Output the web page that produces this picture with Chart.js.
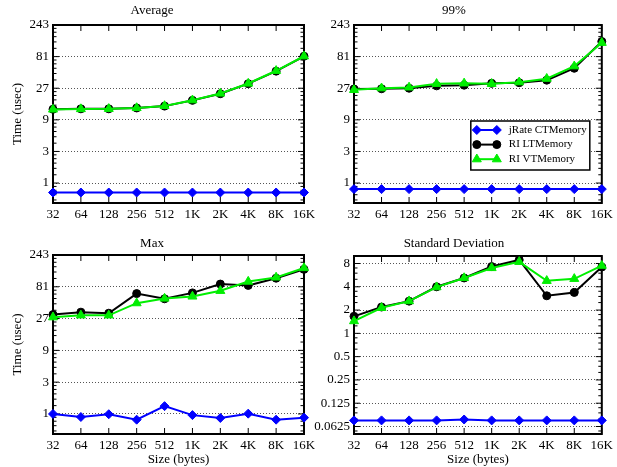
<!DOCTYPE html>
<html>
<head>
<meta charset="utf-8">
<script src="https://cdn.jsdelivr.net/npm/chart.js@4.4.0/dist/chart.umd.min.js"></script>
<style>
  html, body { margin: 0; padding: 0; background: #fff; }
  body { width: 617px; height: 467px; position: relative; overflow: hidden; }
  canvas { position: absolute; }
</style>
</head>
<body>
<canvas id="c-avg" style="left:0;top:0" width="320" height="232"></canvas>
<canvas id="c-p99" style="left:305px;top:0" width="312" height="232"></canvas>
<canvas id="c-max" style="left:0;top:230px" width="320" height="237"></canvas>
<canvas id="c-sd" style="left:305px;top:230px" width="312" height="237"></canvas>
<script>
// x categories (message size)
const sizes = ['32', '64', '128', '256', '512', '1K', '2K', '4K', '8K', '16K'];
const seriesNames = ['jRate CTMemory', 'RI LTMemory', 'RI VTMemory'];

// y ticks
const ticksBase3 = [1, 3, 9, 27, 81, 243];
const ticksBase2 = [0.0625, 0.125, 0.25, 0.5, 1, 2, 4, 8];

// Average
const avgJrate = [0.72, 0.72, 0.72, 0.72, 0.72, 0.72, 0.72, 0.72, 0.72, 0.72];
const avgLT = [13.0, 13.2, 13.2, 13.6, 14.5, 17.7, 22.3, 31.6, 48.9, 82];
const avgVT = [12.9, 13.1, 13.2, 13.6, 14.6, 17.8, 22.5, 31.8, 49.5, 82];

// 99%
const p99Jrate = [0.81, 0.81, 0.81, 0.81, 0.81, 0.81, 0.81, 0.81, 0.81, 0.81];
const p99LT = [26.3, 26.5, 27, 29.3, 30, 32, 32.7, 35.7, 54, 137];
const p99VT = [25.5, 27, 27.8, 31.5, 32, 31.5, 33.3, 37.6, 58, 131];

// Max
const maxJrate = [1.0, 0.90, 0.99, 0.82, 1.31, 0.96, 0.87, 1.01, 0.82, 0.88];
const maxLT = [31, 33.7, 32.5, 64, 53.5, 65.6, 89, 85, 109, 148];
const maxVT = [28.3, 30.2, 30.2, 46, 54, 58, 70.5, 97, 112, 155];

// Standard deviation
const sdJrate = [0.075, 0.075, 0.075, 0.075, 0.077, 0.075, 0.075, 0.075, 0.075, 0.075];
const sdLT = [1.66, 2.19, 2.61, 4.0, 5.2, 7.3, 8.9, 3.06, 3.38, 7.2];
const sdVT = [1.44, 2.14, 2.61, 3.96, 5.2, 7.0, 8.4, 4.78, 5.07, 7.5];

const FONT = 'Liberation Serif, Times New Roman, serif';
Chart.defaults.font.family = FONT;
Chart.defaults.font.size = 13;
Chart.defaults.color = '#000';

const styles = [
  { color: '#0000ff', pointStyle: 'rectRot', radius: 4.5, order: 1 },
  { color: '#000000', pointStyle: 'circle', radius: 4, order: 2 },
  { color: '#00ee00', pointStyle: 'triangle', radius: 5.2, order: 0 }
];

function makeDatasets(lists) {
  return lists.map((data, i) => ({
    label: seriesNames[i],
    data: data,
    borderColor: styles[i].color,
    backgroundColor: styles[i].color,
    pointBackgroundColor: styles[i].color,
    pointBorderColor: styles[i].color,
    pointStyle: styles[i].pointStyle,
    pointRadius: styles[i].radius,
    pointBorderWidth: 1,
    borderWidth: 2,
    order: styles[i].order
  }));
}

function minorTicks(majors, base, n, min, max) {
  const out = [];
  const all = [majors[0] / base].concat(majors);
  all.forEach(m => {
    for (let k = 1; k <= n; k++) {
      const v = m * (1 + k * (base - 1) / (n + 1));
      if (v > min && v < max) out.push(v);
    }
  });
  return out;
}

// gnuplot style frame with inward ticks on all four sides
const framePlugin = {
  id: 'frame',
  beforeDatasetsDraw(chart, args, opts) {
    const { ctx, chartArea: a } = chart;
    const x = chart.scales.x, y = chart.scales.y;
    const seg = (x1, y1, x2, y2) => { ctx.beginPath(); ctx.moveTo(x1, y1); ctx.lineTo(x2, y2); ctx.stroke(); };
    ctx.save();
    ctx.strokeStyle = '#000';
    ctx.lineWidth = 1;
    for (let i = 0; i < x.ticks.length; i++) {
      const px = x.getPixelForTick(i);
      seg(px, a.bottom, px, a.bottom - 6);
      seg(px, a.top, px, a.top + 6);
    }
    y.ticks.forEach(t => {
      const py = y.getPixelForValue(t.value);
      seg(a.left, py, a.left + 6, py);
      seg(a.right, py, a.right - 6, py);
    });
    (opts.minor || []).forEach(v => {
      const py = y.getPixelForValue(v);
      seg(a.left, py, a.left + 3.5, py);
      seg(a.right, py, a.right - 3.5, py);
    });
    ctx.lineWidth = 2;
    ctx.strokeRect(a.left, a.top, a.right - a.left, a.bottom - a.top);
    ctx.restore();
  }
};

// boxed key drawn inside the 99% panel
const boxLegend = {
  id: 'boxLegend',
  afterDatasetsDraw(chart, args, opts) {
    if (!opts.show) return;
    const { ctx, chartArea: a } = chart;
    const bx = a.right - 131, by = a.bottom - 82, bw = 119, bh = 49;
    ctx.save();
    ctx.fillStyle = '#fff';
    ctx.fillRect(bx, by, bw, bh);
    ctx.strokeStyle = '#000';
    ctx.lineWidth = 1.5;
    ctx.strokeRect(bx, by, bw, bh);
    chart.data.datasets.forEach((ds, i) => {
      const ry = by + 9 + i * 14.6;
      ctx.strokeStyle = ds.borderColor;
      ctx.fillStyle = ds.borderColor;
      ctx.lineWidth = 2;
      ctx.beginPath();
      ctx.moveTo(bx + 6, ry);
      ctx.lineTo(bx + 26, ry);
      ctx.stroke();
      ctx.lineWidth = 1;
      const p = { pointStyle: ds.pointStyle, radius: ds.pointRadius, borderWidth: 1, rotation: 0 };
      Chart.helpers.drawPoint(ctx, p, bx + 6, ry);
      Chart.helpers.drawPoint(ctx, p, bx + 26, ry);
      ctx.fillStyle = '#000';
      ctx.font = '11px ' + FONT;
      ctx.textBaseline = 'middle';
      ctx.textAlign = 'left';
      ctx.fillText(ds.label, bx + 38, ry);
    });
    ctx.restore();
  }
};

function makeChart(id, o) {
  new Chart(document.getElementById(id), {
    type: 'line',
    data: { labels: sizes, datasets: makeDatasets(o.series) },
    options: {
      responsive: false,
      animation: false,
      events: [],
      layout: { padding: { left: 0, right: o.padRight, top: 0, bottom: 0 } },
      plugins: {
        legend: { display: false },
        tooltip: { enabled: false },
        title: {
          display: true, text: o.title, color: '#000',
          font: { size: 13, weight: 'normal', family: FONT },
          padding: o.titlePad
        },
        frame: { minor: minorTicks(o.ticks, o.base, o.nMinor, o.min, o.max) },
        boxLegend: { show: !!o.legend }
      },
      scales: {
        x: {
          type: 'category',
          offset: false,
          grid: { display: false, drawTicks: false, tickLength: 0 },
          border: { display: false },
          ticks: { autoSkip: false, maxRotation: 0, padding: 4, font: { size: 13 } },
          title: {
            display: !!o.xTitle, text: o.xTitle || '',
            font: { size: 13 }, padding: { top: 0, bottom: 0 }
          },
          afterFit: s => { s.height = o.xHeight; }
        },
        y: {
          type: 'logarithmic',
          min: o.min, max: o.max,
          bounds: 'data',
          afterBuildTicks: s => { s.ticks = o.ticks.map(v => ({ value: v })); },
          grid: { color: '#555', lineWidth: 1, drawTicks: false },
          border: { display: false, dash: [1, 2] },
          ticks: { padding: 4, font: { size: 13 }, callback: v => String(v) },
          title: {
            display: !!o.yTitle, text: o.yTitle || '',
            font: { size: 13 }, padding: { top: 10, bottom: 0 }
          },
          afterFit: s => { s.width = o.yWidth; }
        }
      }
    },
    plugins: [framePlugin, boxLegend]
  });
}

makeChart('c-avg', {
  title: 'Average', series: [avgJrate, avgLT, avgVT],
  ticks: ticksBase3, base: 3, nMinor: 5, min: 0.5, max: 243,
  yTitle: 'Time (usec)', yWidth: 53, xHeight: 29, padRight: 16,
  titlePad: { top: 2.5, bottom: 6.9 }
});
makeChart('c-p99', {
  title: '99%', series: [p99Jrate, p99LT, p99VT],
  ticks: ticksBase3, base: 3, nMinor: 5, min: 0.5, max: 243,
  yWidth: 49, xHeight: 29, padRight: 14, legend: true,
  titlePad: { top: 2.5, bottom: 6.9 }
});
makeChart('c-max', {
  title: 'Max', series: [maxJrate, maxLT, maxVT],
  ticks: ticksBase3, base: 3, nMinor: 5, min: 0.5, max: 243,
  yTitle: 'Time (usec)', xTitle: 'Size (bytes)', yWidth: 53, xHeight: 33, padRight: 16,
  titlePad: { top: 5.5, bottom: 3.9 }
});
makeChart('c-sd', {
  title: 'Standard Deviation', series: [sdJrate, sdLT, sdVT],
  ticks: ticksBase2, base: 2, nMinor: 3, min: 0.05, max: 10,
  xTitle: 'Size (bytes)', yWidth: 49, xHeight: 33, padRight: 14,
  titlePad: { top: 5.5, bottom: 4.9 }
});
</script>
</body>
</html>
